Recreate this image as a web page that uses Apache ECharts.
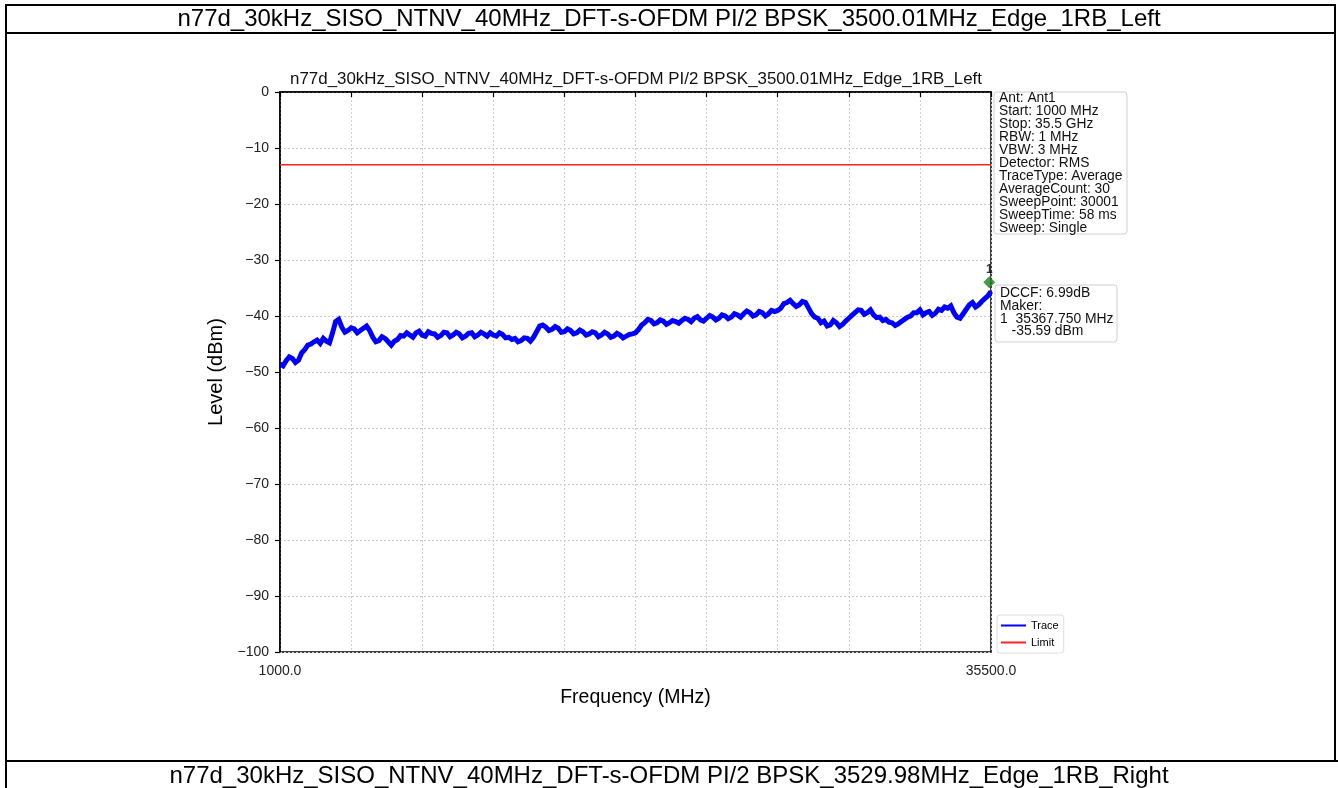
<!DOCTYPE html>
<html><head><meta charset="utf-8">
<script src="https://cdn.jsdelivr.net/npm/echarts@6/dist/echarts.min.js"></script>
<style>html,body{margin:0;padding:0;background:#fff}#c{width:1338px;height:788px}</style>
</head><body><div id="c"></div>
<script>
const headerText = 'n77d_30kHz_SISO_NTNV_40MHz_DFT-s-OFDM PI/2 BPSK_3500.01MHz_Edge_1RB_Left';
const footerText = 'n77d_30kHz_SISO_NTNV_40MHz_DFT-s-OFDM PI/2 BPSK_3529.98MHz_Edge_1RB_Right';
const chartTitle = 'n77d_30kHz_SISO_NTNV_40MHz_DFT-s-OFDM PI/2 BPSK_3500.01MHz_Edge_1RB_Left';
const xName = 'Frequency (MHz)';
const yName = 'Level (dBm)';
const xMin = 1000, xMax = 35500, xTickStep = 3450;
const yMin = -100, yMax = 0, yTickStep = 10;

// Trace: [frequency MHz, level dBm]
const trace = [
  [1000,-48.6],[1150,-48.9],[1300,-48.0],[1450,-47.3],[1600,-47.6],[1750,-48.3],[1900,-47.9],[2050,-46.6],[2200,-46.0],[2350,-45.2],
  [2500,-45.0],[2650,-44.6],[2800,-44.3],[2950,-44.9],[3100,-44.0],[3250,-44.5],[3400,-44.8],[3550,-43.0],[3700,-41.0],[3850,-40.6],
  [4000,-42.0],[4150,-42.9],[4300,-42.6],[4450,-42.1],[4600,-42.3],[4750,-43.0],[4900,-42.6],[5050,-42.2],[5200,-41.8],[5350,-42.6],
  [5500,-43.8],[5650,-44.6],[5800,-44.4],[5950,-43.7],[6100,-44.0],[6250,-44.6],[6400,-45.2],[6550,-44.5],[6700,-44.2],[6850,-43.5],
  [7000,-43.6],[7150,-43.0],[7300,-43.4],[7450,-43.8],[7600,-43.0],[7750,-42.7],[7900,-43.4],[8050,-43.6],[8200,-42.8],[8350,-43.1],
  [8500,-43.2],[8650,-43.8],[8800,-43.5],[8950,-42.9],[9100,-43.0],[9250,-43.7],[9400,-43.4],[9550,-42.9],[9700,-43.2],[9850,-43.9],
  [10000,-43.6],[10150,-43.1],[10300,-43.0],[10450,-43.7],[10600,-43.4],[10750,-42.9],[10900,-43.2],[11050,-43.6],[11200,-43.0],[11350,-43.4],
  [11500,-43.6],[11650,-43.0],[11800,-43.3],[11950,-43.9],[12100,-43.8],[12250,-44.2],[12400,-44.0],[12550,-44.6],[12700,-44.4],[12850,-43.9],
  [13000,-44.0],[13150,-44.5],[13300,-43.8],[13450,-42.8],[13600,-41.8],[13750,-41.6],[13900,-42.0],[14050,-42.6],[14200,-42.4],[14350,-41.9],
  [14500,-42.2],[14650,-42.9],[14800,-42.8],[14950,-42.3],[15100,-42.6],[15250,-43.2],[15400,-43.0],[15550,-42.5],[15700,-42.8],[15850,-43.4],
  [16000,-43.2],[16150,-42.8],[16300,-43.0],[16450,-43.7],[16600,-43.4],[16750,-42.9],[16900,-43.2],[17050,-43.8],[17200,-43.6],[17350,-43.1],
  [17500,-43.4],[17650,-43.9],[17800,-43.6],[17950,-43.3],[18100,-43.2],[18250,-43.0],[18400,-42.4],[18550,-41.6],[18700,-41.2],[18850,-40.6],
  [19000,-40.8],[19150,-41.4],[19300,-41.2],[19450,-40.7],[19600,-40.9],[19750,-41.5],[19900,-41.2],[20050,-40.8],[20200,-41.0],[20350,-41.3],
  [20500,-40.8],[20650,-40.4],[20800,-40.6],[20950,-41.0],[21100,-40.4],[21250,-40.1],[21400,-40.7],[21550,-40.9],[21700,-40.4],[21850,-39.9],
  [22000,-40.2],[22150,-40.7],[22300,-40.4],[22450,-39.8],[22600,-40.0],[22750,-40.5],[22900,-40.2],[23050,-39.6],[23200,-39.8],[23350,-40.2],
  [23500,-39.6],[23650,-39.1],[23800,-39.4],[23950,-40.0],[24100,-39.8],[24250,-39.2],[24400,-39.4],[24550,-40.0],[24700,-39.6],[24850,-39.0],
  [25000,-39.2],[25150,-39.0],[25300,-38.6],[25450,-37.8],[25600,-37.6],[25750,-37.2],[25900,-37.8],[26050,-38.3],[26200,-38.0],[26350,-37.4],
  [26500,-37.6],[26650,-38.6],[26800,-39.6],[26950,-40.2],[27100,-40.4],[27250,-41.2],[27400,-40.9],[27550,-41.8],[27700,-41.6],[27850,-40.8],
  [28000,-41.2],[28150,-41.9],[28300,-41.5],[28450,-40.9],[28600,-40.4],[28750,-39.9],[28900,-39.4],[29050,-38.9],[29200,-39.0],[29350,-39.7],
  [29500,-39.4],[29650,-38.9],[29800,-39.8],[29950,-40.3],[30100,-40.2],[30250,-40.8],[30400,-40.6],[30550,-41.1],[30700,-41.2],[30850,-41.7],
  [31000,-41.4],[31150,-41.0],[31300,-40.6],[31450,-40.2],[31600,-40.0],[31750,-39.4],[31900,-39.4],[32050,-38.9],[32200,-39.8],[32350,-39.4],
  [32500,-39.2],[32650,-39.9],[32800,-39.5],[32950,-38.8],[33100,-39.0],[33250,-38.4],[33400,-38.6],[33550,-38.2],[33700,-39.4],[33850,-40.2],
  [34000,-40.4],[34150,-39.6],[34300,-38.8],[34450,-38.0],[34600,-37.6],[34750,-38.4],[34900,-38.0],[35050,-37.4],[35200,-36.9],[35350,-36.4],
  [35500,-35.6]
];
const limitFreq = [1000, 35500];
const limitLevel = [-13, -13];
const markerFreq = [35367.75];
const markerLevel = [-35.59];
const markerNames = ['1'];

const infoLines = ['Ant: Ant1','Start: 1000 MHz','Stop: 35.5 GHz','RBW: 1 MHz','VBW: 3 MHz',
  'Detector: RMS','TraceType: Average','AverageCount: 30','SweepPoint: 30001','SweepTime: 58 ms','Sweep: Single'];
const markerLines = ['DCCF: 6.99dB','Maker:','1  35367.750 MHz','   -35.59 dBm'];

const FONT = '"Liberation Sans", Arial, Helvetica, sans-serif';

const chart = echarts.init(document.getElementById('c'), null, {renderer: 'canvas'});

const borderStyle = {stroke: '#000', lineWidth: 2};
const option = {
  animation: false,
  backgroundColor: '#fff',
  textStyle: {fontFamily: FONT},
  grid: {left: 280, right: 347, top: 92, bottom: 136, show: true, borderColor: '#000', borderWidth: 1.5, backgroundColor: 'transparent'},
  legend: {
    data: ['Trace', 'Limit'], orient: 'vertical', left: 997, top: 615,
    icon: 'rect', itemWidth: 25, itemHeight: 2, itemGap: 6,
    padding: [5, 5, 5, 4], backgroundColor: '#fff', borderColor: '#dddddd', borderWidth: 1, borderRadius: 3,
    textStyle: {fontSize: 11, color: '#000', fontFamily: FONT}
  },
  xAxis: {
    type: 'value', min: xMin, max: xMax, interval: xTickStep,
    name: xName, nameLocation: 'middle', nameGap: 36,
    nameTextStyle: {fontSize: 19.5, color: '#000', fontFamily: FONT},
    axisLine: {show: true, lineStyle: {color: '#000', width: 1.5}},
    axisTick: {show: true, length: 5, lineStyle: {color: '#000', width: 1.2}},
    axisLabel: {margin: 12, fontSize: 14, color: '#222', fontFamily: FONT,
      formatter: v => (v === xMin || v === xMax) ? v.toFixed(1) : ''},
    splitLine: {show: true, lineStyle: {color: '#cccccc', width: 1, type: [2, 2]}}
  },
  yAxis: {
    type: 'value', min: yMin, max: yMax, interval: yTickStep,
    name: yName, nameLocation: 'middle', nameGap: 52, nameRotate: 90,
    nameTextStyle: {fontSize: 20, color: '#000', fontFamily: FONT},
    axisLine: {show: true, lineStyle: {color: '#000', width: 1.5}},
    axisTick: {show: true, length: 5, lineStyle: {color: '#000', width: 1.2}},
    axisLabel: {margin: 11, fontSize: 14, color: '#222', fontFamily: FONT,
      formatter: v => String(v).replace('-', '\u2212')},
    splitLine: {show: true, lineStyle: {color: '#cccccc', width: 1, type: [2, 2]}}
  },
  series: [
    {name: 'Trace', type: 'line', data: trace,
      showSymbol: false, symbol: 'none', lineStyle: {color: '#0000ff', width: 5, join: 'miter'}, itemStyle: {color: '#0000ff'}, z: 3},
    {name: 'Limit', type: 'line', data: limitFreq.map((f, i) => [f, limitLevel[i]]),
      showSymbol: false, symbol: 'none', lineStyle: {color: '#ff2020', width: 1.5}, itemStyle: {color: '#ff2020'}, z: 3},
    {name: 'Marker', type: 'scatter', data: markerFreq.map((f, i) => ({value: [f, markerLevel[i]], name: markerNames[i]})),
      symbol: 'diamond', symbolSize: 12, symbolOffset: [1, -9], itemStyle: {color: '#1a801a'}, z: 5,
      label: {show: true, position: 'top', distance: 1, formatter: p => p.name, color: '#000', fontSize: 12, fontWeight: 'bold', fontFamily: FONT}}
  ],
  graphic: [
    {type: 'line', shape: {x1: 5, y1: 5, x2: 1336, y2: 5}, style: borderStyle},
    {type: 'line', shape: {x1: 5, y1: 33, x2: 1336, y2: 33}, style: borderStyle},
    {type: 'line', shape: {x1: 5, y1: 761, x2: 1338, y2: 761}, style: borderStyle},
    {type: 'line', shape: {x1: 6, y1: 4, x2: 6, y2: 788}, style: borderStyle},
    {type: 'line', shape: {x1: 1335, y1: 4, x2: 1335, y2: 761}, style: borderStyle},
    {type: 'text', x: 669, y: 19, style: {text: headerText, fontSize: 24, fontFamily: FONT, fill: '#000', align: 'center', verticalAlign: 'middle'}},
    {type: 'text', x: 669, y: 776, style: {text: footerText, fontSize: 24, fontFamily: FONT, fill: '#000', align: 'center', verticalAlign: 'middle'}},
    {type: 'text', x: 636, y: 79, style: {text: chartTitle, fontSize: 16.9, fontFamily: FONT, fill: '#111', align: 'center', verticalAlign: 'middle'}},
    {type: 'rect', shape: {x: 994, y: 92, width: 133, height: 142, r: 3}, style: {fill: '#fff', stroke: '#cfcfcf', lineWidth: 1}, z: 10},
    {type: 'text', x: 999, y: 92, z: 11, style: {text: infoLines.join('\n'), fontSize: 13.8, lineHeight: 13.0, fontFamily: FONT, fill: '#111', align: 'left', verticalAlign: 'top'}},
    {type: 'rect', shape: {x: 995, y: 285, width: 122, height: 57, r: 3}, style: {fill: '#fff', stroke: '#cfcfcf', lineWidth: 1}, z: 10},
    {type: 'text', x: 1000, y: 287, z: 11, style: {text: markerLines.join('\n'), fontSize: 13.9, lineHeight: 12.7, fontFamily: FONT, fill: '#111', align: 'left', verticalAlign: 'top'}}
  ]
};
chart.setOption(option);
</script></body></html>
